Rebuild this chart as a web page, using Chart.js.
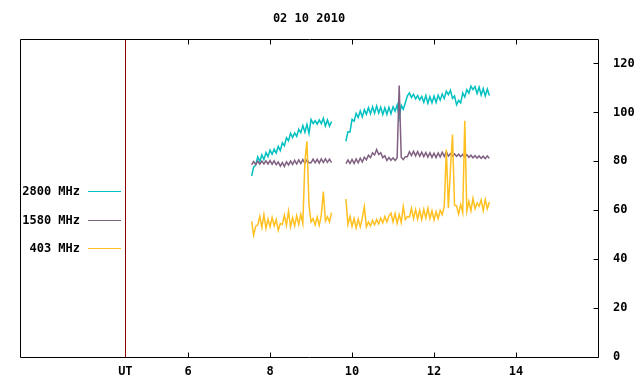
<!DOCTYPE html>
<html>
<head>
<meta charset="utf-8">
<script src="https://cdn.jsdelivr.net/npm/chart.js@4/dist/chart.umd.min.js"></script>
<style>
html,body{margin:0;padding:0;background:#fff;}
#wrap{width:640px;height:384px;}
</style>
</head>
<body>
<div id="wrap"><canvas id="c" width="640" height="384"></canvas></div>
<script>
const title = '02 10 2010';
const seriesLabels = ['2800 MHz', '1580 MHz', '403 MHz'];
const seriesColors = ['#00c0c0', '#806080', '#ffc020'];
const xTickValues = [6, 8, 10, 12, 14];
const utPosition = 4.47;
const utLabel = 'UT';
const yTickValues = [0, 20, 40, 60, 80, 100, 120];

// time in hours (UT); 9.7 is the data gap
const times = [
  7.55,7.6,7.65,7.7,7.75,7.8,7.85,7.9,7.95,
  8,8.05,8.1,8.15,8.2,8.25,8.3,8.35,8.4,8.45,8.5,8.55,8.6,8.65,8.7,8.75,8.8,8.85,8.9,8.95,
  9,9.05,9.1,9.15,9.2,9.25,9.3,9.35,9.4,9.45,9.5,
  9.7,
  9.85,9.9,9.95,
  10,10.05,10.1,10.15,10.2,10.25,10.3,10.35,10.4,10.45,10.5,10.55,10.6,10.65,10.7,10.75,10.8,10.85,10.9,10.95,
  11,11.05,11.1,11.15,11.2,11.25,11.3,11.35,11.4,11.45,11.5,11.55,11.6,11.65,11.7,11.75,11.8,11.85,11.9,11.95,
  12,12.05,12.1,12.15,12.2,12.25,12.3,12.35,12.4,12.45,12.5,12.55,12.6,12.65,12.7,12.75,12.8,12.85,12.9,12.95,
  13,13.05,13.1,13.15,13.2,13.25,13.3,13.35
];

const mhz2800 = [
  74.0,77.6,78.4,81.8,79.9,82.6,80.7,83.6,81.9,
  84.6,82.9,84.9,83.4,86.1,84.4,87.6,86.4,89.6,88.4,91.4,89.7,91.6,90.2,93.1,91.7,94.6,91.9,95.1,91.4,
  97.1,95.4,96.6,95.2,96.9,95.4,97.6,94.4,96.9,94.4,96.3,
  null,
  88.2,92.1,92.0,
  97.1,96.4,99.6,97.9,100.6,98.1,101.1,99.2,101.9,99.4,102.3,99.7,102.6,99.7,102.1,99.1,101.9,99.2,102.1,99.5,
  102.3,100.5,103.1,97.8,102.9,101.3,103.9,106.8,107.9,106.1,107.4,105.5,106.9,105.1,106.5,104.1,106.9,103.7,106.4,103.9,
  106.7,104.1,107.0,105.0,107.5,105.7,108.7,107.3,109.1,105.7,106.7,103.1,104.9,103.9,107.9,106.3,109.3,107.9,110.7,109.3,
  110.6,107.7,110.3,107.1,109.7,106.7,109.5,106.9
];

const mhz1580 = [
  78.6,79.9,78.7,80.0,78.8,80.1,78.9,80.2,78.9,
  80.3,78.8,80.2,78.6,79.7,78.0,79.5,77.9,79.8,78.5,80.1,78.7,80.4,78.9,80.6,79.1,80.7,79.2,80.6,
  79.4,
  79.4,80.9,79.4,80.8,79.3,81.0,79.5,81.0,79.6,80.9,79.5,
  null,
  79.0,80.5,79.1,
  80.8,79.1,81.0,79.4,81.3,79.7,81.7,80.6,82.5,81.5,83.5,82.6,84.8,82.8,83.5,81.5,82.3,80.3,81.5,80.4,
  81.4,80.3,81.5,111,81.7,80.7,81.9,81.9,83.9,82.3,84.1,82.2,84.0,82.1,83.7,81.9,83.6,81.7,83.5,81.6,
  83.3,81.5,83.4,81.8,83.7,82.0,83.9,82.1,83.1,82.2,83.0,82.0,82.9,81.9,82.8,81.8,82.7,81.6,82.5,81.4,
  82.3,81.3,82.2,81.2,82.1,81.1,82.2,81.2
];

const mhz403 = [
  55.5,49.8,53.5,54.0,57.5,53.0,58.2,52.6,56.4,
  53.2,57.0,53.6,56.2,51.8,54.6,54.2,58.0,53.8,59.6,53.2,57.0,53.6,57.8,54.2,58.4,54.6,80.0,88.2,62.0,
  55.2,56.6,54.0,57.2,53.8,58.0,67.6,55.6,57.4,55.2,59.0,
  null,
  64.6,54.2,57.4,
  53.4,56.6,52.8,56.4,53.2,56.8,61.5,53.2,55.2,53.6,55.8,54.0,56.2,54.4,56.8,54.8,57.4,55.2,57.6,58.8,
  55.2,58.6,54.6,58.2,55.0,61.5,56.2,57.4,57.2,60.8,56.6,60.2,56.4,60.0,56.2,60.4,56.8,60.8,56.6,59.8,
  56.0,59.4,56.6,60.0,58.2,61.6,84.8,60.8,76.6,90.9,62.0,61.8,58.4,62.4,59.0,96.6,59.6,63.6,59.8,64.8,
  60.6,63.0,61.6,64.2,59.8,64.4,60.6,63.4
];

const seriesValues = [mhz2800, mhz1580, mhz403];

const FONT = {family: "'DejaVu Sans Mono', 'Liberation Mono', monospace", size: 12, weight: 'bold'};
const FONT_CSS = "bold 12px 'DejaVu Sans Mono', 'Liberation Mono', monospace";

const framePlugin = {
  id: 'gnuplotFrame',
  afterDraw(chart) {
    const ctx = chart.ctx;
    const a = chart.chartArea;
    const xs = chart.scales.x, ys = chart.scales.y;
    const L = Math.round(a.left) + 0.5, R = Math.round(a.right) + 0.5;
    const T = Math.round(a.top) + 0.5, B = Math.round(a.bottom) + 0.5;
    ctx.save();
    ctx.strokeStyle = '#000';
    ctx.lineWidth = 1;
    ctx.beginPath();
    ctx.rect(L, T, R - L, B - T);
    xTickValues.forEach(v => {
      const px = Math.round(xs.getPixelForValue(v)) + 0.5;
      ctx.moveTo(px, B); ctx.lineTo(px, B - 5);
      ctx.moveTo(px, T); ctx.lineTo(px, T + 5);
    });
    yTickValues.forEach(v => {
      const py = Math.round(ys.getPixelForValue(v)) + 0.5;
      ctx.moveTo(R, py); ctx.lineTo(R - 5, py);
    });
    ctx.stroke();
    ctx.fillStyle = '#000';
    ctx.font = FONT_CSS;
    ctx.textAlign = 'center';
    ctx.textBaseline = 'middle';
    ctx.fillText(title, (a.left + a.right) / 2, 19);
    const legendY = [191, 219.5, 248];
    chart.data.datasets.forEach((ds, i) => {
      const y = legendY[i];
      ctx.textAlign = 'right';
      ctx.fillStyle = '#000';
      ctx.fillText(ds.label, 80, y + 1);
      ctx.strokeStyle = ds.borderColor;
      ctx.lineWidth = 1;
      ctx.beginPath();
      ctx.moveTo(88, Math.round(y) + 0.5);
      ctx.lineTo(121, Math.round(y) + 0.5);
      ctx.stroke();
    });
    ctx.restore();
  }
};

const datasets = seriesLabels.map((label, i) => ({
  label: label,
  data: times.map((t, j) => ({x: t, y: seriesValues[i][j]})),
  borderColor: seriesColors[i],
  backgroundColor: seriesColors[i],
  borderWidth: 1.5,
  pointRadius: 0,
  tension: 0,
  spanGaps: false,
  fill: false,
  order: 3 - i
}));

new Chart(document.getElementById('c'), {
  type: 'line',
  data: {datasets: datasets},
  options: {
    responsive: false,
    animation: false,
    events: [],
    layout: {padding: {left: 20, top: 39, right: 0, bottom: 0}},
    plugins: {legend: {display: false}, title: {display: false}, tooltip: {enabled: false}},
    scales: {
      x: {
        type: 'linear',
        min: 1.9,
        max: 16,
        position: 'bottom',
        afterBuildTicks: s => { s.ticks = [utPosition, ...xTickValues].map(v => ({value: v})); },
        afterFit: s => { s.height = 27; },
        ticks: {
          font: FONT, color: '#000', padding: 8, maxRotation: 0, autoSkip: false,
          callback: v => (v === utPosition ? utLabel : String(v))
        },
        grid: {
          display: true,
          drawTicks: false,
          drawOnChartArea: true,
          lineWidth: 1,
          color: c => (c.tick && c.tick.value === utPosition ? '#8b0000' : 'rgba(0,0,0,0)')
        },
        border: {display: false}
      },
      y: {
        type: 'linear',
        position: 'right',
        min: 0,
        max: 130,
        afterBuildTicks: s => { s.ticks = yTickValues.map(v => ({value: v})); },
        afterFit: s => { s.width = 42; },
        ticks: {font: FONT, color: '#000', padding: 7},
        grid: {display: false},
        border: {display: false}
      }
    }
  },
  plugins: [framePlugin]
});
</script>
</body>
</html>
